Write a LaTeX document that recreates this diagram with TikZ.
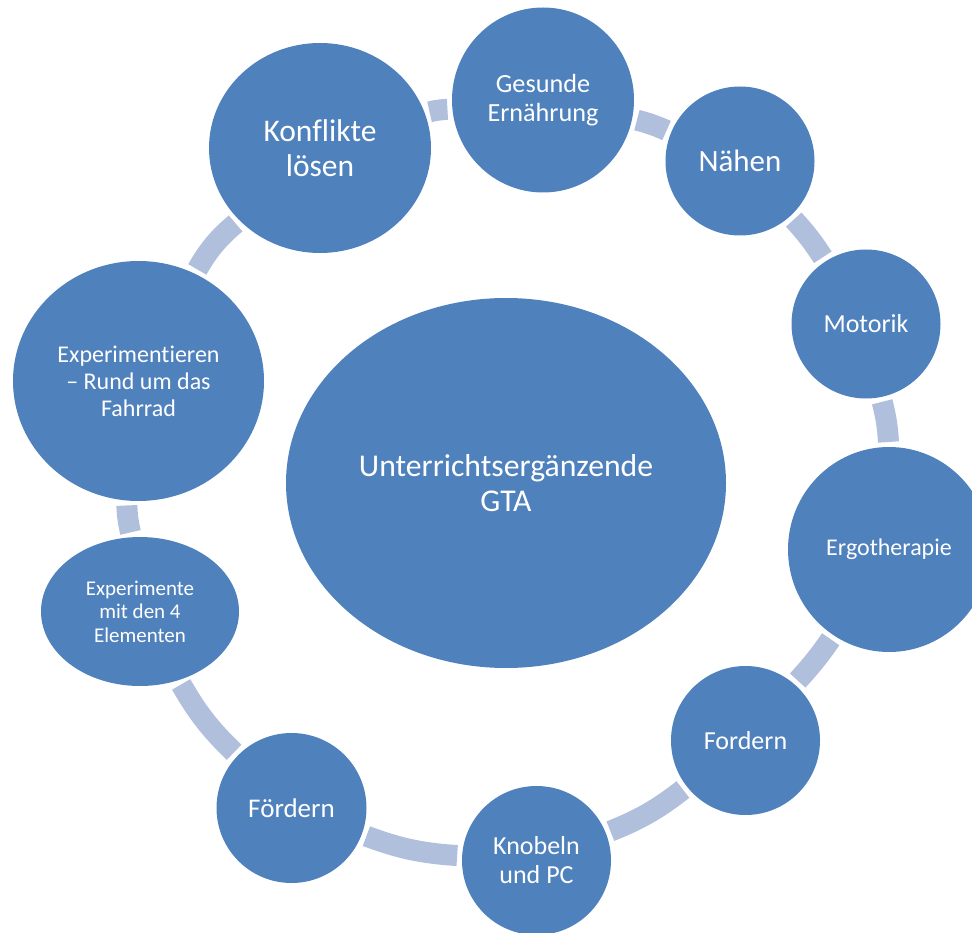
\documentclass[tikz,border=0pt]{standalone}
\usepackage{fontspec}
\setmainfont{Carlito}[Ligatures={NoCommon,NoRare,NoContextual}]
\usetikzlibrary{shapes.geometric,backgrounds}
\definecolor{nodeblue}{RGB}{79,129,189}
\definecolor{connblue}{RGB}{176,192,220}
\tikzset{
  bubble/.style={ellipse, fill=nodeblue, draw=none, inner sep=0pt, outer sep=0pt, text=white, align=center},
  conn/.style={draw=connblue, line width=21pt, line cap=butt, shorten <=5pt, shorten >=5pt},
}
\begin{document}
\begin{tikzpicture}[x=1pt,y=1pt]
\useasboundingbox (0,0) rectangle (972,-933);
\node[bubble, minimum width=440pt, minimum height=370pt, font=\fontsize{31.7}{35}\selectfont] (gta) at (506,-483) {Unterrichtsergänzende\\GTA};
\node[bubble, minimum width=222pt, minimum height=210pt, font=\fontsize{31.5}{35.5}\selectfont] (konf) at (320,-148) {Konflikte\\lösen};
\node[bubble, minimum width=182pt, minimum height=185pt, font=\fontsize{26.2}{29}\selectfont] (ges) at (543,-100) {Gesunde\\Ernährung};
\node[bubble, minimum width=149pt, minimum height=149pt, font=\fontsize{31}{35}\selectfont] (naehen) at (740,-161) {Nähen};
\node[bubble, minimum width=149pt, minimum height=149pt, font=\fontsize{26}{29}\selectfont] (mot) at (866,-324) {Motorik};
\node[bubble, minimum width=202pt, minimum height=205pt, font=\fontsize{24}{27}\selectfont] (ergo) at (889,-549.5) {Ergotherapie};
\node[bubble, minimum width=149pt, minimum height=149pt, font=\fontsize{26}{29}\selectfont] (ford) at (745.5,-740.5) {Fordern};
\node[bubble, minimum width=149pt, minimum height=149pt, font=\fontsize{26}{29}\selectfont] (knob) at (536.5,-860.5) {Knobeln\\und PC};
\node[bubble, minimum width=150pt, minimum height=150pt, font=\fontsize{27}{30.5}\selectfont] (foerd) at (291.5,-808) {Fördern};
\node[bubble, minimum width=198pt, minimum height=149pt, font=\fontsize{21}{23.5}\selectfont] (expte) at (140,-611.5) {Experimente\\mit den 4\\Elementen};
\node[bubble, minimum width=251pt, minimum height=240pt, font=\fontsize{24}{27}\selectfont] (expmt) at (138.5,-381) {Experimentieren\\– Rund um das\\Fahrrad};
\begin{scope}[on background layer]
\draw[conn] (konf) to[bend left=6.3] (ges);
\draw[conn] (ges) to[bend left=5.2] (naehen);
\draw[conn] (naehen) to[bend left=4.8] (mot);
\draw[conn] (mot) to[bend left=5.7] (ergo);
\draw[conn] (ergo) to[bend left=4] (ford);
\draw[conn] (ford) to[bend left=8.2] (knob);
\draw[conn] (knob) to[bend left=8.5] (foerd);
\draw[conn] (foerd) to[bend left=8.2] (expte);
\draw[conn] (expte) to[bend left=6] (expmt);
\draw[conn] (expmt) to[bend left=10.2] (konf);
\end{scope}
\end{tikzpicture}
\end{document}
